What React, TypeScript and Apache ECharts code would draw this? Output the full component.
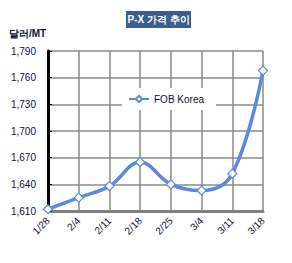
import React, { useEffect, useRef } from "react";
import * as echarts from "echarts";

const categories = ["1/28", "2/4", "2/11", "2/18", "2/25", "3/4", "3/11", "3/18"];
const fobKorea = [1612, 1625, 1638, 1665, 1640, 1633, 1652, 1768];
const seriesName = "FOB Korea";
const titleText = "P-X 가격 추이";
const unitText = "달러/MT";

export default function App() {
  const ref = useRef<HTMLDivElement>(null);
  useEffect(() => {
    if (!ref.current) return;
    const chart = echarts.init(ref.current, null, { renderer: "svg" });
    const font = "'Liberation Sans', Arial, sans-serif";
    chart.setOption({
      animation: false,
      backgroundColor: "#ffffff",
      grid: { left: 48, right: 29, top: 51, bottom: 52 },
      graphic: [
        { type: "rect", z: 10, shape: { x: 126, y: 11, width: 65, height: 17 }, style: { fill: "#3c5d92" } },
        {
          type: "text", z: 11, x: 158.5, y: 19.5,
          style: { text: titleText, fill: "#ffffff", font: `bold 10px ${font}`, align: "center", verticalAlign: "middle" },
        },
        {
          type: "text", x: 9, y: 33,
          style: { text: unitText, fill: "#111133", font: `bold 10px ${font}`, align: "left", verticalAlign: "middle" },
        },
      ],
      legend: {
        show: true,
        left: 122,
        top: 88,
        backgroundColor: "#ffffff",
        padding: [6, 12, 6, 6],
        itemWidth: 20,
        itemHeight: 8,
        itemGap: 4,
        textStyle: { fontFamily: font, fontSize: 10, color: "#111133" },
        data: [{ name: seriesName }],
      },
      xAxis: {
        type: "category",
        data: categories,
        boundaryGap: false,
        axisLine: { lineStyle: { color: "#808080", width: 3 } },
        axisTick: { show: false },
        axisLabel: { rotate: 45, fontFamily: font, fontSize: 10, color: "#111133", margin: 8 },
        splitLine: { show: true, lineStyle: { color: "#8a8a8a", width: 1.5 } },
      },
      yAxis: {
        type: "value",
        min: 1610,
        max: 1790,
        interval: 30,
        axisLine: { show: true, lineStyle: { color: "#000000", width: 3 } },
        axisTick: { show: true, inside: true, length: 4, lineStyle: { color: "#000000" } },
        axisLabel: {
          fontFamily: font, fontSize: 10, color: "#111133", margin: 12,
          formatter: (v: number) => v.toLocaleString("en-US"),
        },
        splitLine: { show: true, lineStyle: { color: "#8a8a8a", width: 1.5 } },
      },
      series: [
        {
          name: seriesName,
          type: "line",
          data: fobKorea,
          smooth: 0.4,
          symbol: "diamond",
          symbolSize: 9,
          lineStyle: { color: "#5a8ad8", width: 3.5 },
          itemStyle: { color: "#ffffff", borderColor: "#5a8ad8", borderWidth: 1.2 },
          z: 3,
        },
      ],
    });
    return () => chart.dispose();
  }, []);
  return <div ref={ref} style={{ position: "fixed", left: 0, top: 0, width: 292, height: 263 }} />;
}
